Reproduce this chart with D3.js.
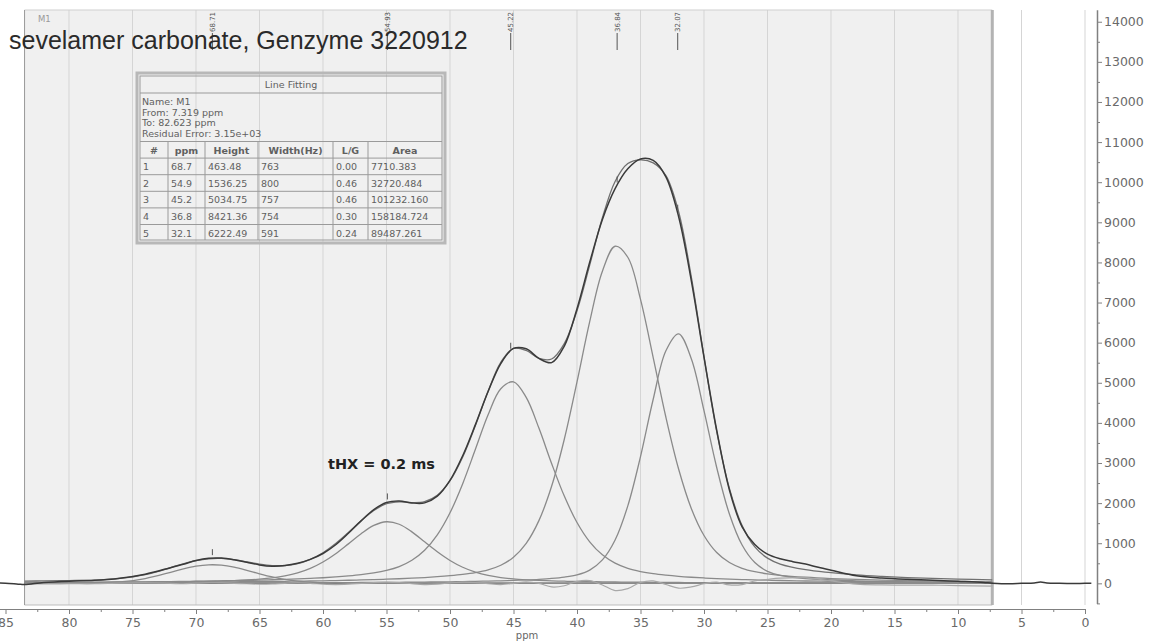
<!DOCTYPE html>
<html>
<head>
<meta charset="utf-8">
<script src="https://cdn.jsdelivr.net/npm/d3@7"></script>
<style>
  body { margin: 0; background: #fff; }
  svg { display: block; }
</style>
</head>
<body>
<svg id="chart" width="1155" height="641"></svg>
<script>
// ---- data ----
var fitPpm = [83.5, 82, 80, 78, 76, 74, 72, 71, 70, 69, 68, 67, 66, 65, 64, 63, 62, 61, 60, 59, 58, 57, 56, 55, 54, 53, 52, 51, 50, 49, 48, 47, 46, 45, 44, 43, 42, 41, 40, 39, 38, 37, 36, 35, 34, 33, 32, 31, 30, 29, 28, 27, 26, 25, 24, 22, 20, 18, 16, 14, 12, 10, 7.3];
var comp1 = [0, 0, 1, 7, 35, 119, 274, 359, 427, 461, 453, 403, 326, 239, 160, 97, 53, 27, 12, 5, 2, 1, 0, 0, 0, 0, 0, 0, 0, 0, 0, 0, 0, 0, 0, 0, 0, 0, 0, 0, 0, 0, 0, 0, 0, 0, 0, 0, 0, 0, 0, 0, 0, 0, 0, 0, 0, 0, 0, 0, 0, 0, 0];
var comp2 = [13, 15, 17, 20, 24, 29, 36, 41, 46, 52, 60, 70, 84, 104, 135, 184, 259, 373, 532, 739, 984, 1236, 1443, 1535, 1473, 1283, 1035, 786, 570, 401, 279, 196, 143, 109, 88, 73, 62, 53, 47, 42, 37, 33, 30, 27, 25, 23, 21, 19, 18, 16, 15, 14, 13, 12, 11, 10, 9, 8, 7, 7, 6, 6, 5];
var comp3 = [22, 24, 27, 30, 34, 39, 45, 48, 52, 56, 61, 67, 73, 81, 89, 99, 110, 124, 140, 160, 185, 216, 259, 322, 418, 574, 824, 1208, 1759, 2485, 3341, 4203, 4851, 5023, 4635, 3870, 2989, 2175, 1517, 1036, 710, 503, 374, 294, 240, 203, 174, 152, 134, 118, 106, 95, 86, 78, 71, 59, 50, 43, 38, 33, 29, 26, 22];
var comp4 = [16, 17, 19, 21, 23, 25, 28, 30, 32, 34, 36, 38, 41, 44, 47, 51, 55, 59, 64, 70, 77, 84, 93, 103, 115, 128, 145, 165, 190, 222, 267, 336, 451, 651, 997, 1564, 2419, 3592, 5021, 6524, 7782, 8403, 8129, 7078, 5628, 4140, 2851, 1868, 1193, 768, 518, 375, 291, 238, 201, 153, 120, 97, 80, 67, 57, 49, 40];
var comp5 = [5, 5, 6, 6, 7, 7, 8, 9, 9, 9, 10, 11, 11, 12, 13, 13, 14, 15, 16, 18, 19, 21, 22, 24, 26, 29, 32, 35, 39, 44, 49, 56, 64, 74, 86, 101, 122, 155, 212, 331, 584, 1080, 1931, 3159, 4589, 5796, 6218, 5600, 4304, 2888, 1729, 955, 518, 300, 198, 118, 88, 62, 48, 38, 31, 26, 21];
var resid = [-20, -15, -10, -10, 5, 10, 0, -10, 5, 15, 10, 0, -10, -20, -15, 0, 10, 0, -20, -30, -20, 0, 20, 30, 20, -10, -30, -20, 10, 30, 20, -10, -30, 0, 40, 0, -90, -60, 50, 70, -40, -180, -130, 20, 60, -30, -120, -90, -10, 30, -40, -30, 60, 100, 130, 140, 60, -20, -40, -45, -45, -55, -70];

var specPpm = [86.5, 85, 84, 83.5, 82, 80, 78, 76, 74, 72, 71, 70, 69, 68, 67, 66, 65, 64, 63, 62, 61, 60, 59, 58, 57, 56, 55, 54, 53, 52, 51, 50, 49, 48, 47, 46, 45, 44, 43, 42, 41, 40, 39, 38, 37, 36, 35, 34, 33, 32, 31, 30, 29, 28, 27, 26, 25, 24, 23, 22, 21, 20, 18, 16, 14, 12, 10, 8, 7.3, 6, 5, 4, 3.5, 3, 2, 1, 0, -0.5];
var specInt = [10, 5, -20, -30, 20, 55, 74, 128, 229, 391, 476, 571, 627, 630, 588, 525, 460, 428, 444, 501, 598, 744, 962, 1247, 1557, 1837, 2014, 2052, 2004, 2006, 2174, 2568, 3182, 3956, 4781, 5479, 5856, 5846, 5608, 5502, 5915, 6847, 8003, 9073, 9839, 10334, 10578, 10542, 10132, 9144, 7549, 5639, 3820, 2328, 1409, 968, 728, 611, 540, 480, 400, 328, 190, 133, 100, 78, 51, 22, 5, -10, 0, 10, 35, 10, 0, -5, 0, 0];

var peakLabels = ["68.71", "54.93", "45.22", "36.84", "32.07"];
var xTicks = [85, 80, 75, 70, 65, 60, 55, 50, 45, 40, 35, 30, 25, 20, 15, 10, 5, 0];
var xMinor = [82.5, 77.5, 72.5, 67.5, 62.5, 57.5, 52.5, 47.5, 42.5, 37.5, 32.5, 27.5, 22.5, 17.5, 12.5, 7.5, 2.5];
var yTicks = [0, 1000, 2000, 3000, 4000, 5000, 6000, 7000, 8000, 9000, 10000, 11000, 12000, 13000, 14000];
var yMinor = [-500, 500, 1500, 2500, 3500, 4500, 5500, 6500, 7500, 8500, 9500, 10500, 11500, 12500, 13500];

var fitInfo = ["Name: M1", "From: 7.319 ppm", "To: 82.623 ppm", "Residual Error: 3.15e+03"];
var tableHead = ["#", "ppm", "Height", "Width(Hz)", "L/G", "Area"];
var tableRows = [
    ["1", "68.7", "463.48", "763", "0.00", "7710.383"],
    ["2", "54.9", "1536.25", "800", "0.46", "32720.484"],
    ["3", "45.2", "5034.75", "757", "0.46", "101232.160"],
    ["4", "36.8", "8421.36", "754", "0.30", "158184.724"],
    ["5", "32.1", "6222.49", "591", "0.24", "89487.261"]
];

// ---- layout ----
var svg = d3.select("#chart");
var x = d3.scaleLinear().domain([86, 0]).range([-7.2, 1085]);
var y = d3.scaleLinear().domain([-500, 14300]).range([603.4, 9.7]);
var plotTop = 10, plotBottom = 605;
var regionLeft = x(83.5), regionRight = x(7.3);

svg.append("rect")
    .attr("x", regionLeft).attr("y", plotTop)
    .attr("width", regionRight - regionLeft).attr("height", plotBottom - plotTop)
    .attr("fill", "#f0f0f0");

// vertical grid
svg.selectAll("line.grid")
    .data(xTicks.filter(function (d) { return d < 84; }))
    .enter().append("line")
    .attr("class", "grid")
    .attr("x1", function (d) { return x(d); })
    .attr("x2", function (d) { return x(d); })
    .attr("y1", plotTop).attr("y2", plotBottom)
    .attr("stroke", "#d5d5d5").attr("stroke-width", 1);

// region frame
svg.append("line").attr("x1", regionLeft).attr("x2", regionRight).attr("y1", plotTop).attr("y2", plotTop)
    .attr("stroke", "#cfcfcf");
svg.append("line").attr("x1", regionLeft).attr("x2", regionRight).attr("y1", plotBottom).attr("y2", plotBottom)
    .attr("stroke", "#bdbdbd");
svg.append("line").attr("x1", regionLeft).attr("x2", regionLeft).attr("y1", plotTop).attr("y2", plotBottom)
    .attr("stroke", "#999");
svg.append("line").attr("x1", regionRight).attr("x2", regionRight).attr("y1", plotTop).attr("y2", plotBottom)
    .attr("stroke", "#b3b3b3").attr("stroke-width", 3);

// ---- axes ----
function styleAxis(g) {
    g.attr("font-family", "'DejaVu Sans', sans-serif").attr("font-size", 12.5);
    g.select(".domain").attr("stroke", "#808080");
    g.selectAll(".tick line").attr("stroke", "#808080");
    g.selectAll(".tick text").attr("fill", "#6a6a6a");
}

var gx = svg.append("g").attr("transform", "translate(0,609)")
    .call(d3.axisBottom(x).tickValues(xTicks).tickSize(5).tickSizeOuter(0).tickPadding(4).tickFormat(d3.format("d")));
styleAxis(gx);
var gxm = svg.append("g").attr("transform", "translate(0,609)")
    .call(d3.axisBottom(x).tickValues(xMinor).tickSize(3).tickSizeOuter(0).tickFormat(""));
gxm.select(".domain").remove();
gxm.selectAll(".tick line").attr("stroke", "#808080");

svg.append("text")
    .attr("x", 527).attr("y", 639)
    .attr("font-family", "'DejaVu Sans', sans-serif").attr("font-size", 10)
    .attr("fill", "#666").attr("text-anchor", "middle")
    .text("ppm");

var gy = svg.append("g").attr("transform", "translate(1097,0)")
    .call(d3.axisRight(y).tickValues(yTicks).tickSize(5).tickSizeOuter(0).tickPadding(2).tickFormat(d3.format("d")));
styleAxis(gy);
gy.select(".domain").attr("stroke-width", 1.5);
var gym = svg.append("g").attr("transform", "translate(1097,0)")
    .call(d3.axisRight(y).tickValues(yMinor).tickSize(3).tickSizeOuter(0).tickFormat(""));
gym.select(".domain").remove();
gym.selectAll(".tick line").attr("stroke", "#808080");

// ---- curves ----
var line = d3.line()
    .x(function (d) { return x(d[0]); })
    .y(function (d) { return y(d[1]); })
    .curve(d3.curveCatmullRom);

function pairs(ppm, vals) {
    return ppm.map(function (p, i) { return [p, vals[i]]; });
}

// zero line of the fit region
svg.append("line")
    .attr("x1", regionLeft).attr("x2", regionRight)
    .attr("y1", y(0)).attr("y2", y(0))
    .attr("stroke", "#555").attr("stroke-width", 1.5);

var components = [comp1, comp2, comp3, comp4, comp5];
components.forEach(function (c) {
    svg.append("path")
        .attr("d", line(pairs(fitPpm, c)))
        .attr("fill", "none").attr("stroke", "#8a8a8a").attr("stroke-width", 1.3);
});

svg.append("path")
    .attr("d", line(pairs(fitPpm, resid)))
    .attr("fill", "none").attr("stroke", "#a8a8a8").attr("stroke-width", 1.2);

var fitSum = fitPpm.map(function (p, i) {
    return d3.sum(components, function (c) { return c[i]; });
});
svg.append("path")
    .attr("d", line(pairs(fitPpm, fitSum)))
    .attr("fill", "none").attr("stroke", "#707070").attr("stroke-width", 1.3);

svg.append("path")
    .attr("d", line(pairs(specPpm, specInt)))
    .attr("fill", "none").attr("stroke", "#3a3a3a").attr("stroke-width", 1.5);

// peak picking marks on the spectrum
function specAt(p) {
    var i = d3.bisector(function (d) { return -d; }).left(specPpm, -p);
    var p0 = specPpm[i - 1], p1 = specPpm[i];
    var t = (p - p0) / (p1 - p0);
    return specInt[i - 1] + t * (specInt[i] - specInt[i - 1]);
}
peakLabels.forEach(function (lbl) {
    var p = +lbl;
    var yy = y(specAt(p));
    svg.append("line")
        .attr("x1", x(p)).attr("x2", x(p))
        .attr("y1", yy - 3).attr("y2", yy - 9)
        .attr("stroke", "#555").attr("stroke-width", 1);
    svg.append("line")
        .attr("x1", x(p)).attr("x2", x(p))
        .attr("y1", 33).attr("y2", 50)
        .attr("stroke", "#555").attr("stroke-width", 1);
    svg.append("text")
        .attr("transform", "translate(" + (x(p) + 2.5) + ",32) rotate(-90)")
        .attr("font-family", "'DejaVu Sans', sans-serif").attr("font-size", 7)
        .attr("fill", "#555")
        .text(lbl);
});

// ---- texts ----
svg.append("text")
    .attr("x", 38).attr("y", 22)
    .attr("font-family", "'DejaVu Sans', sans-serif").attr("font-size", 8.5)
    .attr("fill", "#999").text("M1");

svg.append("text")
    .attr("x", 9).attr("y", 49)
    .attr("font-family", "'Liberation Sans', Arial, sans-serif").attr("font-size", 25)
    .attr("fill", "#2a2a2a")
    .text("sevelamer carbonate, Genzyme 3220912");

svg.append("text")
    .attr("x", 328).attr("y", 469)
    .attr("font-family", "'DejaVu Sans', sans-serif").attr("font-size", 14.5)
    .attr("font-weight", "bold").attr("fill", "#222")
    .text("tHX = 0.2 ms");

// ---- line fitting table ----
var tb = svg.append("g").attr("font-family", "'DejaVu Sans', sans-serif").attr("fill", "#606060");
var colX = [140, 168, 205, 258, 333, 368, 442];
var headTop = 141.5, rowH = 16.6;

tb.append("rect").attr("x", 137).attr("y", 73).attr("width", 308).attr("height", 170)
    .attr("fill", "none").attr("stroke", "#b8b8b8").attr("stroke-width", 3);
tb.append("rect").attr("x", 140).attr("y", 76).attr("width", 302).attr("height", 164)
    .attr("fill", "none").attr("stroke", "#9a9a9a").attr("stroke-width", 1);
tb.append("line").attr("x1", 140).attr("x2", 442).attr("y1", 93).attr("y2", 93)
    .attr("stroke", "#9a9a9a");
tb.append("text").attr("x", 291).attr("y", 88).attr("font-size", 9.5)
    .attr("text-anchor", "middle").text("Line Fitting");

tb.selectAll("text.info").data(fitInfo).enter().append("text")
    .attr("class", "info")
    .attr("x", 142).attr("y", function (d, i) { return 105 + i * 10.6; })
    .attr("font-size", 9.5).text(function (d) { return d; });

for (var r = 0; r <= tableRows.length; r++) {
    tb.append("line").attr("x1", 140).attr("x2", 442)
        .attr("y1", headTop + r * rowH).attr("y2", headTop + r * rowH)
        .attr("stroke", "#9a9a9a");
}
colX.slice(1, -1).forEach(function (cx) {
    tb.append("line").attr("x1", cx).attr("x2", cx)
        .attr("y1", headTop).attr("y2", 240)
        .attr("stroke", "#9a9a9a");
});

tableHead.forEach(function (h, j) {
    tb.append("text")
        .attr("x", (colX[j] + colX[j + 1]) / 2).attr("y", headTop + 12)
        .attr("font-size", 9.5).attr("font-weight", "bold")
        .attr("text-anchor", "middle").text(h);
});
tableRows.forEach(function (row, i) {
    row.forEach(function (cell, j) {
        tb.append("text")
            .attr("x", colX[j] + 3).attr("y", headTop + (i + 1) * rowH + 12)
            .attr("font-size", 9.5).text(cell);
    });
});
</script>
</body>
</html>
